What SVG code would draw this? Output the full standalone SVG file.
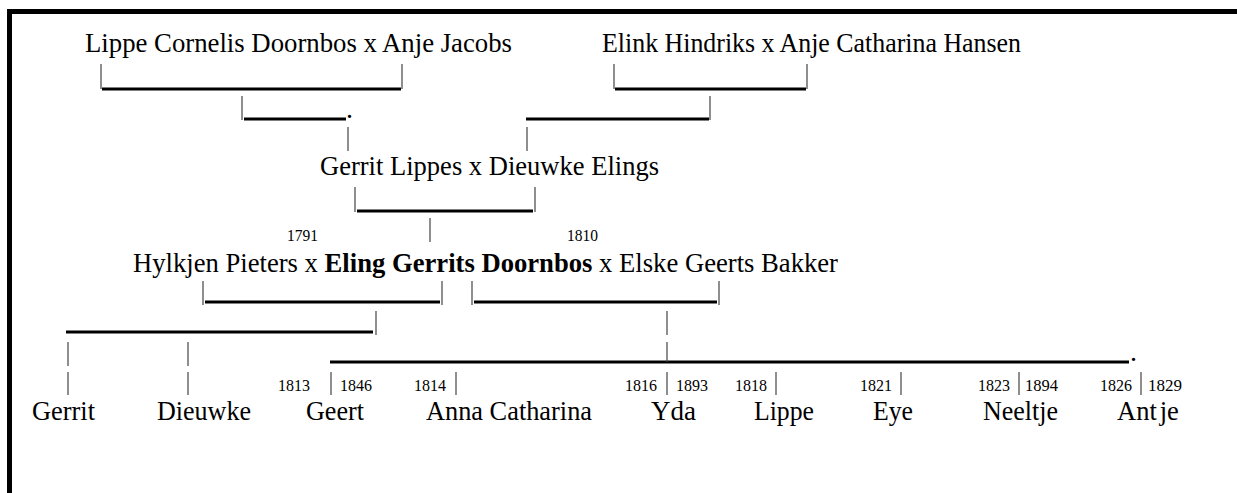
<svg xmlns="http://www.w3.org/2000/svg" width="1237" height="493" viewBox="0 0 1237 493">
<style>
.t{font-family:"Liberation Serif","Times New Roman",serif;font-size:28px;fill:#000}
.y{font-family:"Liberation Serif","Times New Roman",serif;font-size:17px;fill:#000}
.b{font-weight:bold}
.v{stroke:#444;stroke-width:1.2}
.u{stroke:#000;stroke-width:3}
</style>
<rect x="0" y="0" width="1237" height="493" fill="#fff"/>
<g id="frame">
<rect x="7" y="9" width="1230" height="5" fill="#000"/>
<rect x="7" y="9" width="5" height="484" fill="#000"/>
</g>
<g id="connectors">
<line class="v" x1="101" y1="64" x2="101" y2="89"/>
<line class="u" x1="102" y1="89" x2="401" y2="89"/>
<line class="v" x1="402" y1="64" x2="402" y2="89"/>
<line class="v" x1="614" y1="64" x2="614" y2="89"/>
<line class="u" x1="615" y1="89" x2="806" y2="89"/>
<line class="v" x1="807" y1="64" x2="807" y2="89"/>
<line class="v" x1="242" y1="96" x2="242" y2="120"/>
<line class="u" x1="244" y1="119" x2="346" y2="119"/>
<line class="u" x1="526" y1="119" x2="709" y2="119"/>
<line class="v" x1="710" y1="96" x2="710" y2="120"/>
<line class="v" x1="348" y1="127" x2="348" y2="151"/>
<line class="v" x1="527" y1="127" x2="527" y2="151"/>
<line class="v" x1="355" y1="187" x2="355" y2="212"/>
<line class="u" x1="357" y1="211" x2="533" y2="211"/>
<line class="v" x1="535" y1="187" x2="535" y2="212"/>
<line class="v" x1="430" y1="218" x2="430" y2="242"/>
<line class="v" x1="203" y1="281" x2="203" y2="305"/>
<line class="u" x1="205" y1="302" x2="440" y2="302"/>
<line class="v" x1="442" y1="281" x2="442" y2="305"/>
<line class="v" x1="472" y1="281" x2="472" y2="305"/>
<line class="u" x1="474" y1="302" x2="717" y2="302"/>
<line class="v" x1="719" y1="281" x2="719" y2="305"/>
<line class="u" x1="66" y1="332" x2="373" y2="332"/>
<line class="v" x1="376" y1="311" x2="376" y2="335"/>
<line class="v" x1="667" y1="311" x2="667" y2="335"/>
<line class="v" x1="68" y1="342" x2="68" y2="366"/>
<line class="v" x1="188" y1="342" x2="188" y2="366"/>
<line class="u" x1="330" y1="362" x2="1129" y2="362"/>
<line class="v" x1="667" y1="342" x2="667" y2="362"/>
<line class="v" x1="68" y1="372" x2="68" y2="395"/>
<line class="v" x1="188" y1="372" x2="188" y2="395"/>
<line class="v" x1="331" y1="372" x2="331" y2="395"/>
<line class="v" x1="456" y1="372" x2="456" y2="395"/>
<line class="v" x1="667" y1="372" x2="667" y2="395"/>
<line class="v" x1="776" y1="372" x2="776" y2="395"/>
<line class="v" x1="901" y1="372" x2="901" y2="395"/>
<line class="v" x1="1019" y1="372" x2="1019" y2="395"/>
<line class="v" x1="1141" y1="372" x2="1141" y2="395"/>
<text class="t" x="346" y="118">.</text>
<text class="t" x="1130" y="361">.</text>
</g>
<g id="lippe-anje"><text class="t" x="85" y="52" textLength="427" lengthAdjust="spacingAndGlyphs">Lippe Cornelis Doornbos x Anje Jacobs</text></g>
<g id="elink-anje"><text class="t" x="602" y="52" textLength="419" lengthAdjust="spacingAndGlyphs">Elink Hindriks x Anje Catharina Hansen</text></g>
<g id="gerrit-dieuwke"><text class="t" x="320" y="175" textLength="339" lengthAdjust="spacingAndGlyphs">Gerrit Lippes x Dieuwke Elings</text></g>
<g id="eling">
<text class="y" x="287" y="241" textLength="31" lengthAdjust="spacingAndGlyphs">1791</text>
<text class="y" x="567" y="241" textLength="31" lengthAdjust="spacingAndGlyphs">1810</text>
<text class="t" x="133" y="272" textLength="705" lengthAdjust="spacingAndGlyphs">Hylkjen Pieters x <tspan class="b">Eling Gerrits Doornbos</tspan> x Elske Geerts Bakker</text>
</g>
<g id="child-gerrit"><text class="t" x="32" y="420" textLength="63" lengthAdjust="spacingAndGlyphs">Gerrit</text></g>
<g id="child-dieuwke"><text class="t" x="157" y="420" textLength="94" lengthAdjust="spacingAndGlyphs">Dieuwke</text></g>
<g id="child-geert"><text class="y" x="278" y="391" textLength="32" lengthAdjust="spacingAndGlyphs">1813</text><text class="y" x="340" y="391" textLength="32" lengthAdjust="spacingAndGlyphs">1846</text><text class="t" x="306" y="420" textLength="58" lengthAdjust="spacingAndGlyphs">Geert</text></g>
<g id="child-anna"><text class="y" x="414" y="391" textLength="32" lengthAdjust="spacingAndGlyphs">1814</text><text class="t" x="426" y="420" textLength="166" lengthAdjust="spacingAndGlyphs">Anna Catharina</text></g>
<g id="child-yda"><text class="y" x="625" y="391" textLength="32" lengthAdjust="spacingAndGlyphs">1816</text><text class="y" x="676" y="391" textLength="32" lengthAdjust="spacingAndGlyphs">1893</text><text class="t" x="651" y="420" textLength="45" lengthAdjust="spacingAndGlyphs">Yda</text></g>
<g id="child-lippe"><text class="y" x="735" y="391" textLength="32" lengthAdjust="spacingAndGlyphs">1818</text><text class="t" x="754" y="420" textLength="60" lengthAdjust="spacingAndGlyphs">Lippe</text></g>
<g id="child-eye"><text class="y" x="860" y="391" textLength="32" lengthAdjust="spacingAndGlyphs">1821</text><text class="t" x="873" y="420" textLength="40" lengthAdjust="spacingAndGlyphs">Eye</text></g>
<g id="child-neeltje"><text class="y" x="978" y="391" textLength="32" lengthAdjust="spacingAndGlyphs">1823</text><text class="y" x="1025" y="391" textLength="33" lengthAdjust="spacingAndGlyphs">1894</text><text class="t" x="983" y="420" textLength="75" lengthAdjust="spacingAndGlyphs">Neeltje</text></g>
<g id="child-antje"><text class="y" x="1100" y="391" textLength="32" lengthAdjust="spacingAndGlyphs">1826</text><text class="y" x="1148" y="391" textLength="34" lengthAdjust="spacingAndGlyphs">1829</text><text class="t" x="1117" y="420" style="font-size:26.5px">Ant<tspan dx="3">je</tspan></text></g>
</svg>
